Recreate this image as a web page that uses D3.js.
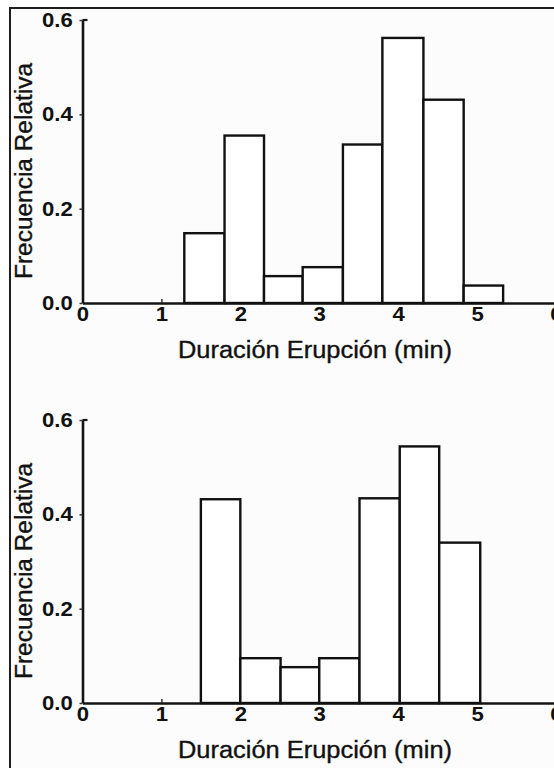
<!DOCTYPE html>
<html>
<head>
<meta charset="utf-8">
<script src="https://cdn.jsdelivr.net/npm/d3@7"></script>
<style>
  html, body { margin: 0; padding: 0; background: #ffffff; }
  svg { display: block; }
</style>
</head>
<body>
<script>
// Axis ticks shared by both histograms
const xTicks = [0, 1, 2, 3, 4, 5, 6];
const yTicks = [0.0, 0.2, 0.4, 0.6];

// Upper histogram: bin edges (min) and relative frequency per bin
const upperEdges = [1.29, 1.80, 2.30, 2.79, 3.30, 3.80, 4.32, 4.83, 5.33];
const upperFreq  = [0.148, 0.355, 0.057, 0.076, 0.336, 0.562, 0.431, 0.037];

// Lower histogram: bin edges (min) and relative frequency per bin
const lowerEdges = [1.50, 2.00, 2.51, 3.00, 3.51, 4.02, 4.52, 5.04];
const lowerFreq  = [0.432, 0.095, 0.076, 0.095, 0.434, 0.544, 0.340];

const xTitle = "Duración Erupción (min)";
const yTitle = "Frecuencia Relativa";

const W = 554, H = 768;
const svg = d3.select("body").append("svg")
  .attr("width", W).attr("height", H);

// Outer frame
svg.append("rect")
  .attr("x", 10).attr("y", 8)
  .attr("width", W + 20).attr("height", H + 20)
  .attr("fill", "#fcfcfc")
  .attr("stroke", "#1e1e1e")
  .attr("stroke-width", 2);

function styleTickText(sel) {
  sel.attr("font-family", "'Liberation Sans', Arial, sans-serif")
    .attr("font-weight", "bold")
    .attr("font-size", 20.5)
    .attr("fill", "#111")
    .attr("transform", "scale(1.08,1)");
}

function titleText(sel) {
  sel.attr("font-family", "'Liberation Sans', Arial, sans-serif")
    .attr("font-size", 23)
    .attr("lengthAdjust", "spacingAndGlyphs")
    .attr("fill", "#111")
    .attr("stroke", "#111")
    .attr("stroke-width", 0.35);
}

function histogram(top, edges, freq) {
  const x = d3.scaleLinear().domain([0, 6]).range([82.5, 556]);
  const y = d3.scaleLinear().domain([0, 0.6]).range([top + 283, top]);
  const g = svg.append("g");

  const bins = freq.map((f, i) => ({ x0: edges[i], x1: edges[i + 1], f }));

  // X axis with small inward ticks
  const xa = g.append("g")
    .attr("transform", `translate(0,${y(0)})`)
    .call(d3.axisBottom(x).tickValues(xTicks).tickSize(-4).tickSizeOuter(0)
      .tickPadding(3).tickFormat(d3.format("d")));
  xa.select(".domain").attr("stroke", "#151515").attr("stroke-width", 2.6);
  xa.selectAll(".tick line").attr("stroke", "#333").attr("stroke-width", 1.5);
  xa.selectAll(".tick text").call(styleTickText);

  // Y axis
  const ya = g.append("g")
    .attr("transform", `translate(${x(0)},0)`)
    .call(d3.axisLeft(y).tickValues(yTicks).tickSize(3).tickSizeOuter(0)
      .tickPadding(6).tickFormat(d3.format(".1f")));
  ya.select(".domain").attr("stroke", "#151515").attr("stroke-width", 2.6);
  ya.selectAll(".tick line").attr("stroke", "#333").attr("stroke-width", 1.5);
  ya.selectAll(".tick text").call(styleTickText);
  // short stub at the top end of the y axis
  g.append("line")
    .attr("x1", x(0)).attr("x2", x(0) + 5)
    .attr("y1", y(0.6)).attr("y2", y(0.6))
    .attr("stroke", "#151515").attr("stroke-width", 2.2);

  // Bars
  g.selectAll("rect.bar").data(bins).join("rect")
    .attr("class", "bar")
    .attr("x", d => x(d.x0))
    .attr("y", d => y(d.f))
    .attr("width", d => x(d.x1) - x(d.x0))
    .attr("height", d => y(0) - y(d.f))
    .attr("fill", "#ffffff")
    .attr("stroke", "#111")
    .attr("stroke-width", 2.4);

  // Axis titles
  g.append("text")
    .attr("x", 315).attr("y", top + 338)
    .attr("text-anchor", "middle")
    .attr("textLength", 274)
    .call(titleText)
    .text(xTitle);

  g.append("text")
    .attr("transform", `translate(32,${top + 151}) rotate(-90)`)
    .attr("text-anchor", "middle")
    .attr("textLength", 216)
    .call(titleText)
    .text(yTitle);
}

histogram(20, upperEdges, upperFreq);
histogram(420, lowerEdges, lowerFreq);
</script>
</body>
</html>
